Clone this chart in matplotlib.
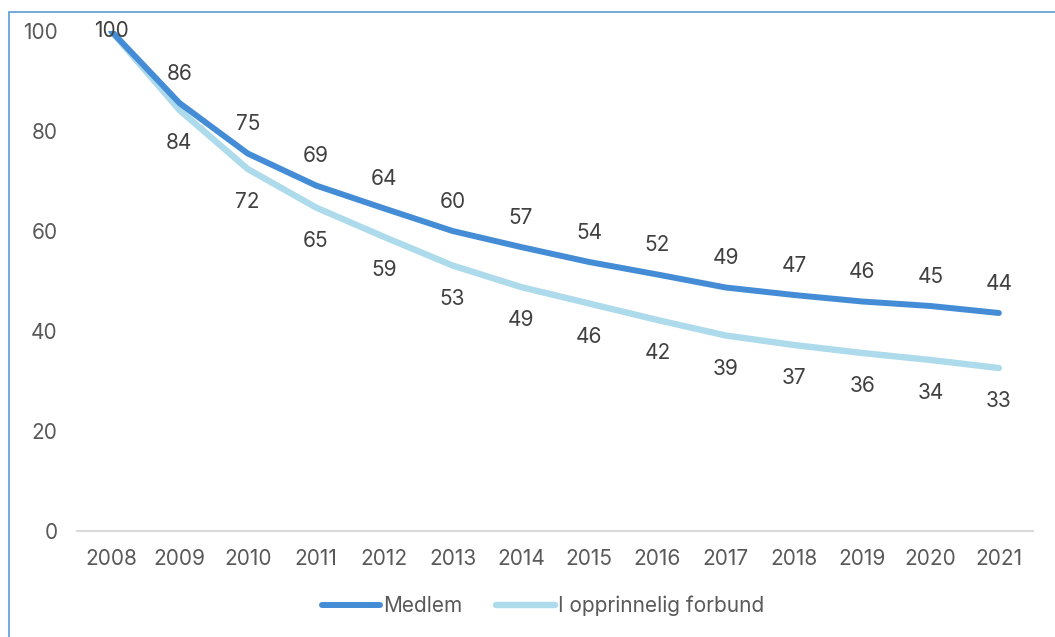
import matplotlib
matplotlib.use("Agg")
import matplotlib.pyplot as plt
from matplotlib.patches import Rectangle

plt.rcParams['font.family'] = ['Inter', 'DejaVu Sans']

years = ['2008', '2009', '2010', '2011', '2012', '2013', '2014',
         '2015', '2016', '2017', '2018', '2019', '2020', '2021']
medlem = [100, 85.6, 75.5, 69.1, 64.5, 60.0, 56.8, 53.8, 51.3, 48.7, 47.2, 45.9, 45.0, 43.6]
medlem_labels = [100, 86, 75, 69, 64, 60, 57, 54, 52, 49, 47, 46, 45, 44]
opprinnelig = [100, 84.2, 72.4, 64.7, 58.8, 53.1, 48.8, 45.5, 42.2, 39.1, 37.2, 35.6, 34.2, 32.6]
opprinnelig_labels = [100, 84, 72, 65, 59, 53, 49, 46, 42, 39, 37, 36, 34, 33]
yticks = [0, 20, 40, 60, 80, 100]

c_medlem = '#448DD6'
c_opp = '#ADDBEC'
txt = '#404040'
fs = 15

fig = plt.figure(figsize=(10.55, 6.37), dpi=100)
ax = fig.add_axes([77/1055, 1-531/637, (1033-77)/1055, 500/637])

x = list(range(len(years)))
ax.plot(x, opprinnelig, color=c_opp, lw=4.6, solid_capstyle='round',
        solid_joinstyle='round', label='I opprinnelig forbund', zorder=2)
ax.plot(x, medlem, color=c_medlem, lw=4.3, solid_capstyle='round',
        solid_joinstyle='round', label='Medlem', zorder=3)

for i in x:
    dy_m = 0 if i == 0 else 21
    ax.annotate(str(medlem_labels[i]), (i, medlem[i]), xytext=(0, dy_m),
                textcoords='offset points', ha='center', va='center',
                fontsize=fs, color=txt, zorder=4, annotation_clip=False)
    if i > 0:
        ax.annotate(str(opprinnelig_labels[i]), (i, opprinnelig[i]), xytext=(0, -24),
                    textcoords='offset points', ha='center', va='center',
                    fontsize=fs, color=txt, zorder=4)

ax.set_xlim(-0.5, len(years) - 0.5)
ax.set_ylim(0, 100)
ax.set_xticks(x)
ax.set_xticklabels(years)
ax.set_yticks(yticks)
for s in ['top', 'right', 'left']:
    ax.spines[s].set_visible(False)
ax.spines['bottom'].set_color('#D9D9D9')
ax.spines['bottom'].set_linewidth(1.5)
ax.tick_params(axis='both', length=0, labelsize=fs, labelcolor='#595959')
ax.tick_params(axis='x', pad=13)
ax.tick_params(axis='y', pad=14)

h, l = ax.get_legend_handles_labels()
leg = fig.legend(h[::-1], l[::-1], loc='center', bbox_to_anchor=(543/1055, 1-606/637),
                 ncol=2, frameon=False, fontsize=fs, handlelength=2.8,
                 handletextpad=0.15, columnspacing=1.6)
for t in leg.get_texts():
    t.set_color('#595959')

fig.patches.append(Rectangle((9/1055, -0.05), 1.2, 1-12/637+0.05, transform=fig.transFigure,
                             fill=False, edgecolor='#5B9BD5', lw=1.2, zorder=0))

fig.savefig('out.png', dpi=100)
